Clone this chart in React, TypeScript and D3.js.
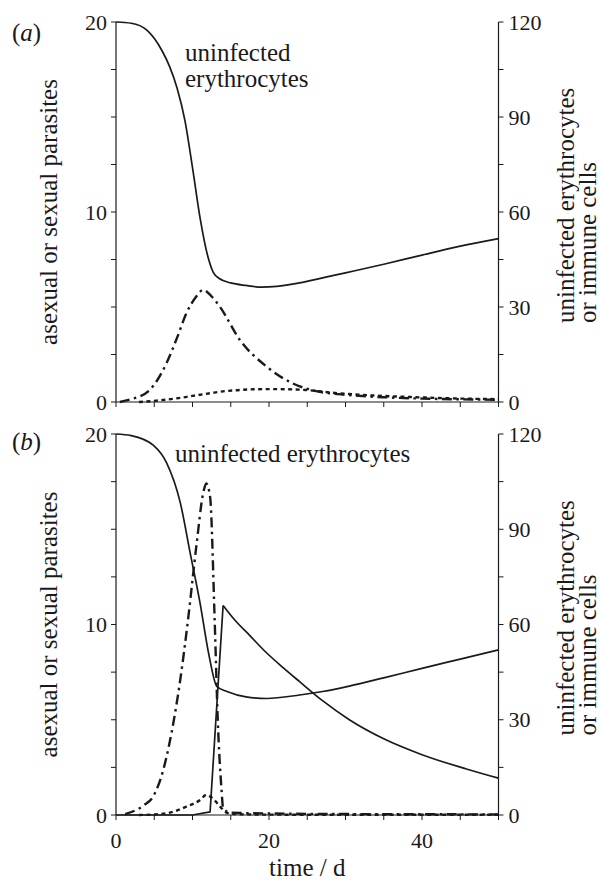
import React from 'react';
import * as d3 from 'd3';

// time axis (days) and tick values
const xTicks = [0, 5, 10, 15, 20, 25, 30, 35, 40, 45, 50];
const xLabels = [0, 20, 40];
const leftTicks = [0, 2.5, 5, 7.5, 10, 12.5, 15, 17.5, 20];
const leftLabels = [0, 10, 20];
const rightTicks = [0, 15, 30, 45, 60, 75, 90, 105, 120];
const rightLabels = [0, 30, 60, 90, 120];

// (a) uninfected erythrocytes (right axis)
const eryTimeA = [0, 2, 4, 6, 7, 8, 9, 10, 11, 12, 12.7, 13.5, 15, 17, 19, 21, 24, 27, 30, 35, 40, 45, 50];
const eryA = [120, 119.6, 117.5, 111, 106, 99, 89, 74, 58, 46, 41, 39, 37.6, 36.8, 36.3, 36.5, 37.6, 39.2, 40.8, 43.5, 46.4, 49.2, 51.6];
// (a) asexual parasites (left axis, dash-dot)
const asexTimeA = [0.5, 2, 4.4, 6.6, 8, 9.2, 10.4, 11.4, 12.4, 13.6, 16.2, 19.7, 23.1, 26.6, 30.3, 35, 40, 45, 50];
const asexA = [0, 0.15, 0.63, 2.04, 3.4, 4.67, 5.5, 5.9, 5.6, 5.0, 3.26, 1.86, 0.98, 0.54, 0.37, 0.25, 0.18, 0.14, 0.12];
// (a) sexual parasites (left axis, dotted)
const sexTimeA = [3, 5, 7.9, 10, 12.3, 14, 16.2, 18, 20.5, 22.5, 24.9, 28.3, 32, 36, 40, 45, 50];
const sexA = [0, 0.06, 0.19, 0.32, 0.46, 0.56, 0.63, 0.67, 0.68, 0.67, 0.63, 0.49, 0.38, 0.3, 0.24, 0.18, 0.15];

// (b) uninfected erythrocytes (right axis)
const eryTimeB = [0, 2, 4.9, 6.6, 8.4, 9.7, 11, 12.1, 13.2, 14.5, 17, 19.7, 24, 27, 30.5, 35, 40, 45, 50];
const eryB = [120, 119.5, 116.4, 111, 98.4, 82.5, 66.6, 51, 40.4, 38.9, 37.2, 36.7, 37.8, 38.9, 40.6, 43.2, 46.2, 49.1, 52];
// (b) immune cells (right axis): sharp rise, then decay
const immRiseTime = [0, 10, 12.3, 14];
const immRise = [0, 0, 1, 66];
const immDecayTime = [14, 15.5, 17.5, 19.5, 21.8, 24, 27, 30.5, 35, 40, 45.8, 50];
const immDecay = [66, 61.5, 56.5, 51.5, 46.5, 42, 36, 30, 24, 19, 14.5, 11.6];
// (b) asexual parasites
const asexTimeB = [1.2, 3.6, 4.9, 6.2, 7.3, 8.4, 9.4, 10.5, 11.4, 11.8, 12.3, 12.9, 13.3, 13.8, 14.0, 15, 20, 30, 40, 50];
const asexB = [0.05, 0.5, 1.0, 2.4, 4.4, 7.1, 10.2, 14.1, 16.9, 17.4, 16.7, 10.2, 5.0, 1.3, 0.36, 0.12, 0.08, 0.05, 0.04, 0.03];
// (b) sexual parasites
const sexTimeB = [3, 5, 7.5, 9.2, 11, 11.8, 12.7, 13.6, 14.6, 16, 20, 30, 40, 50];
const sexB = [0, 0.03, 0.17, 0.44, 0.79, 1.05, 0.85, 0.44, 0.1, 0.04, 0.02, 0.01, 0.01, 0.01];

const W = 601;
const H = 880;
const FONT = '"Liberation Serif", "Times New Roman", serif';
const INK = '#1a1a1a';
const TXT = 25;
const NUM = 22;

const zip = (t: number[], v: number[]) => t.map((d, i) => [d, v[i]] as [number, number]);

const x = d3.scaleLinear().domain([0, 50]).range([116, 498.5]);

type Series = { pts: [number, number][]; axis: 'left' | 'right'; style: 'solid' | 'dashdot' | 'dot'; curve?: any };

function Panel({ y0, y1, label, labelY, series, note, showX, leftTitleX }: any) {
  const yL = d3.scaleLinear().domain([0, 20]).range([y0, y1]);
  const yR = d3.scaleLinear().domain([0, 120]).range([y0, y1]);
  const xl = x(0), xr = x(50);
  const mid = (y0 + y1) / 2;
  return (
    <g fontFamily={FONT} fill={INK}>
      {/* axes */}
      <line x1={xl} x2={xl} y1={y1} y2={y0} stroke={INK} strokeWidth={1.2} />
      <line x1={xr} x2={xr} y1={y1} y2={y0} stroke={INK} strokeWidth={1.2} />
      <line x1={xl} x2={xr} y1={y0} y2={y0} stroke={INK} strokeWidth={1.2} />
      {leftTicks.map((t) => (
        <line key={'l' + t} x1={xl - 5} x2={xl} y1={yL(t)} y2={yL(t)} stroke={INK} strokeWidth={1} />
      ))}
      {leftLabels.map((t) => (
        <text key={'ll' + t} x={xl - 9} y={yL(t)} dy="0.35em" textAnchor="end" fontSize={NUM}>{t}</text>
      ))}
      {rightTicks.map((t) => (
        <line key={'r' + t} x1={xr} x2={xr + 5} y1={yR(t)} y2={yR(t)} stroke={INK} strokeWidth={1} />
      ))}
      {rightLabels.map((t) => (
        <text key={'rl' + t} x={xr + 10} y={yR(t)} dy="0.35em" textAnchor="start" fontSize={NUM}>{t}</text>
      ))}
      {xTicks.map((t) => (
        <line key={'x' + t} x1={x(t)} x2={x(t)} y1={y0} y2={y0 + 5} stroke={INK} strokeWidth={1} />
      ))}
      {showX && xLabels.map((t) => (
        <text key={'xl' + t} x={x(t)} y={y0 + 33} textAnchor="middle" fontSize={NUM}>{t}</text>
      ))}

      {/* curves */}
      {series.map((s: Series, i: number) => {
        const ys = s.axis === 'left' ? yL : yR;
        const gen = d3.line<[number, number]>().x((d) => x(d[0])).y((d) => ys(d[1])).curve(s.curve || d3.curveMonotoneX);
        const dash = s.style === 'dashdot' ? '10 4.5 2.5 4.5' : s.style === 'dot' ? '4 3.5' : undefined;
        return (
          <path key={i} d={gen(s.pts) || ''} fill="none" stroke={INK} strokeLinejoin="round"
            strokeWidth={s.style === 'solid' ? 1.7 : 2.4} strokeDasharray={dash} />
        );
      })}

      {/* titles */}
      <text x={12} y={labelY} fontSize={TXT}>(<tspan fontStyle="italic">{label}</tspan>)</text>
      <text transform={`translate(${leftTitleX},${mid}) rotate(-90)`} textAnchor="middle" fontSize={TXT}>
        asexual or sexual parasites
      </text>
      <text transform={`translate(574,${mid + 111}) rotate(-90)`} textAnchor="start" fontSize={TXT}>
        uninfected erythrocytes
      </text>
      <text transform={`translate(596,${mid + 111}) rotate(-90)`} textAnchor="start" fontSize={TXT}>
        or immune cells
      </text>
      {note.lines.map((ln: string, i: number) => (
        <text key={ln} x={note.x} y={note.y + i * 26} fontSize={TXT}>{ln}</text>
      ))}
    </g>
  );
}

export default function App() {
  const seriesA: Series[] = [
    { pts: zip(eryTimeA, eryA), axis: 'right', style: 'solid' },
    { pts: zip(asexTimeA, asexA), axis: 'left', style: 'dashdot' },
    { pts: zip(sexTimeA, sexA), axis: 'left', style: 'dot' },
  ];
  const seriesB: Series[] = [
    { pts: zip(eryTimeB, eryB), axis: 'right', style: 'solid' },
    { pts: zip(immRiseTime, immRise), axis: 'right', style: 'solid', curve: d3.curveLinear },
    { pts: zip(immDecayTime, immDecay), axis: 'right', style: 'solid' },
    { pts: zip(asexTimeB, asexB), axis: 'left', style: 'dashdot' },
    { pts: zip(sexTimeB, sexB), axis: 'left', style: 'dot' },
  ];
  return (
    <svg width={W} height={H} viewBox={`0 0 ${W} ${H}`}
      style={{ position: 'absolute', left: 0, top: 0, background: '#fff' }}>
      <rect width={W} height={H} fill="#fff" />
      <Panel y0={402} y1={22} label="a" labelY={41} series={seriesA} showX={false} leftTitleX={57}
        note={{ x: 185, y: 61, lines: ['uninfected', 'erythrocytes'] }} />
      <Panel y0={815} y1={434} label="b" labelY={450} series={seriesB} showX={true} leftTitleX={57}
        note={{ x: 175, y: 462, lines: ['uninfected erythrocytes'] }} />
      <text x={x(25)} y={876} textAnchor="middle" fontSize={TXT} fontFamily={FONT} fill={INK}>time / d</text>
    </svg>
  );
}
